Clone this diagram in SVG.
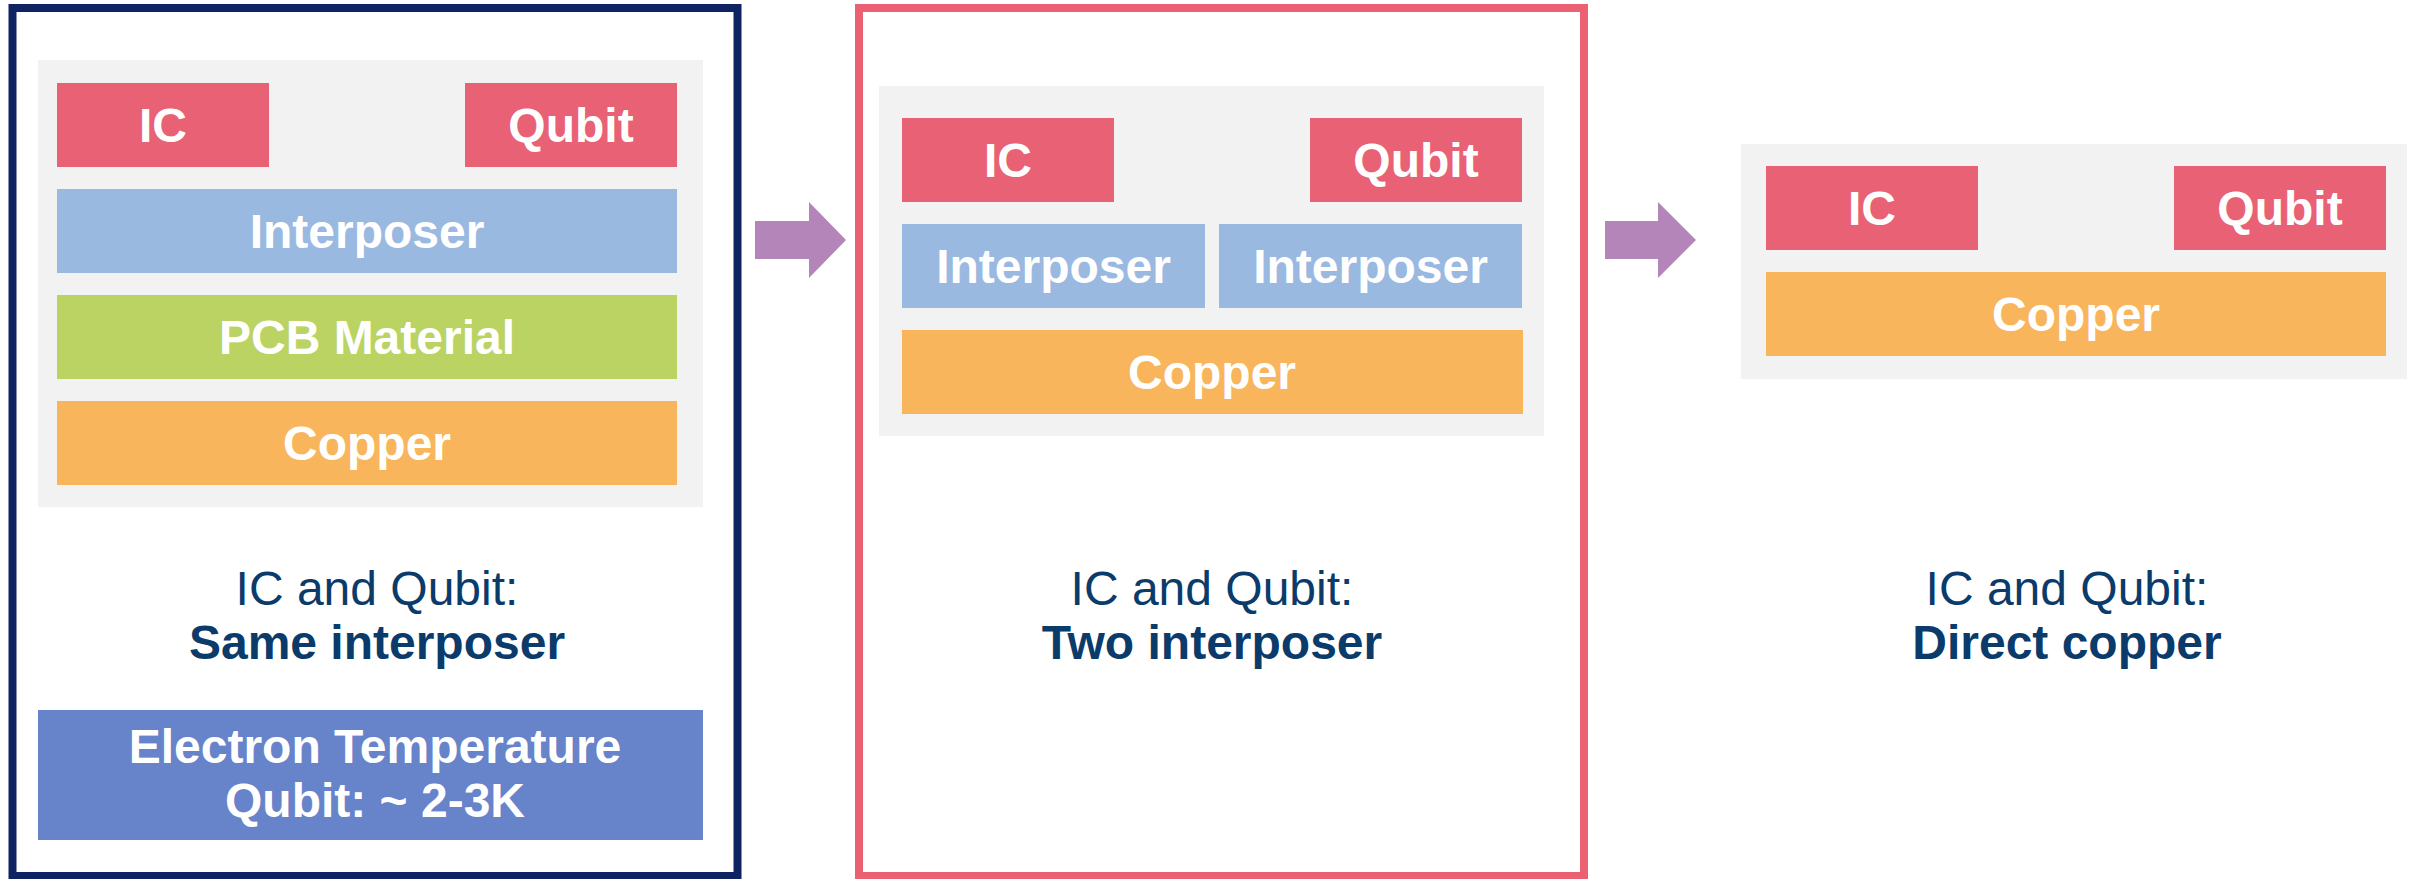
<svg xmlns="http://www.w3.org/2000/svg" width="2415" height="879" viewBox="0 0 2415 879">
  <style>
    .frame-navy { fill: #ffffff; stroke: #0f2262; stroke-width: 8; }
    .frame-red { fill: #ffffff; stroke: #eb6174; stroke-width: 8; }
    .panel { fill: #f2f2f2; }
    .chip { fill: #e96174; }
    .interposer { fill: #9ab9e1; }
    .pcb { fill: #bad362; }
    .copper { fill: #f9b55c; }
    .temp { fill: #6783c9; }
    .lbl { font-family: "Liberation Sans", Arial, sans-serif; font-size: 48px; font-weight: bold; fill: #ffffff; text-anchor: middle; }
    .cap { font-family: "Liberation Sans", Arial, sans-serif; font-size: 48px; fill: #0a3b6b; text-anchor: middle; }
    .capb { font-weight: bold; }
    .arrow { fill: #b385b9; }
  </style>

  <!-- Scenario 1: same interposer -->
  <g id="scenario-same-interposer">
    <rect class="frame-navy" x="12.5" y="8" width="725" height="868"/>
    <rect class="panel" x="38" y="60" width="665" height="447"/>
    <g id="s1-ic"><rect class="chip" x="57" y="83" width="212" height="84"/><text class="lbl" x="163" y="142">IC</text></g>
    <g id="s1-qubit"><rect class="chip" x="465" y="83" width="212" height="84"/><text class="lbl" x="571" y="142">Qubit</text></g>
    <g id="s1-interposer"><rect class="interposer" x="57" y="189" width="620" height="84"/><text class="lbl" x="367" y="248">Interposer</text></g>
    <g id="s1-pcb"><rect class="pcb" x="57" y="295" width="620" height="84"/><text class="lbl" x="367" y="354">PCB Material</text></g>
    <g id="s1-copper"><rect class="copper" x="57" y="401" width="620" height="84"/><text class="lbl" x="367" y="460">Copper</text></g>
    <g id="s1-caption">
      <text class="cap" x="377" y="605">IC and Qubit:</text>
      <text class="cap capb" x="377" y="659">Same interposer</text>
    </g>
    <g id="s1-temperature">
      <rect class="temp" x="38" y="710" width="665" height="130"/>
      <text class="lbl" x="375" y="763">Electron Temperature</text>
      <text class="lbl" x="375" y="817">Qubit: ~ 2-3K</text>
    </g>
  </g>

  <!-- Scenario 2: two interposer -->
  <g id="scenario-two-interposer">
    <rect class="frame-red" x="859" y="8" width="725" height="868"/>
    <rect class="panel" x="879" y="86" width="665" height="350"/>
    <g id="s2-ic"><rect class="chip" x="902" y="118" width="212" height="84"/><text class="lbl" x="1008" y="177">IC</text></g>
    <g id="s2-qubit"><rect class="chip" x="1310" y="118" width="212" height="84"/><text class="lbl" x="1416" y="177">Qubit</text></g>
    <g id="s2-interposer-1"><rect class="interposer" x="902" y="224" width="303" height="84"/><text class="lbl" x="1053.5" y="283">Interposer</text></g>
    <g id="s2-interposer-2"><rect class="interposer" x="1219" y="224" width="303" height="84"/><text class="lbl" x="1370.5" y="283">Interposer</text></g>
    <g id="s2-copper"><rect class="copper" x="902" y="330" width="621" height="84"/><text class="lbl" x="1212" y="389">Copper</text></g>
    <g id="s2-caption">
      <text class="cap" x="1212" y="605">IC and Qubit:</text>
      <text class="cap capb" x="1212" y="659">Two interposer</text>
    </g>
  </g>

  <!-- Scenario 3: direct copper -->
  <g id="scenario-direct-copper">
    <rect class="panel" x="1741" y="144" width="666" height="235"/>
    <g id="s3-ic"><rect class="chip" x="1766" y="166" width="212" height="84"/><text class="lbl" x="1872" y="225">IC</text></g>
    <g id="s3-qubit"><rect class="chip" x="2174" y="166" width="212" height="84"/><text class="lbl" x="2280" y="225">Qubit</text></g>
    <g id="s3-copper"><rect class="copper" x="1766" y="272" width="620" height="84"/><text class="lbl" x="2076" y="331">Copper</text></g>
    <g id="s3-caption">
      <text class="cap" x="2067" y="605">IC and Qubit:</text>
      <text class="cap capb" x="2067" y="659">Direct copper</text>
    </g>
  </g>

  <!-- Connectors -->
  <g id="connectors">
    <polygon class="arrow" points="755,221 809,221 809,202 846,240 809,278 809,259 755,259"/>
    <polygon class="arrow" points="1605,221 1658,221 1658,202 1696,240 1658,278 1658,259 1605,259"/>
  </g>
</svg>
